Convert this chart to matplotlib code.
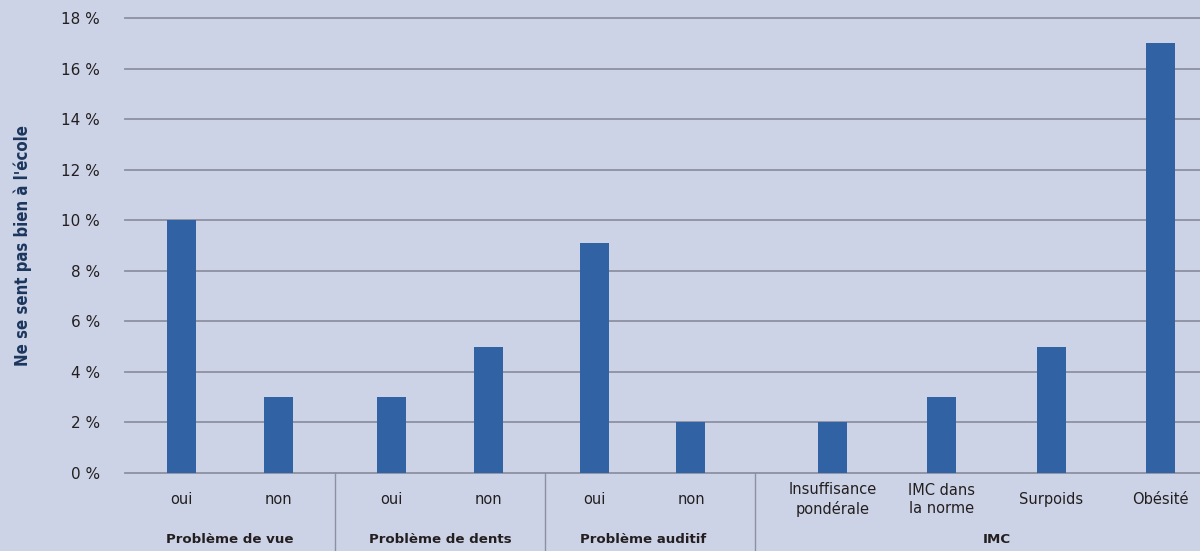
import matplotlib
matplotlib.use('Agg')
import matplotlib.pyplot as plt

groups = ['Problème de vue', 'Problème de dents', 'Problème auditif', 'IMC']
categories = [
    ['oui', 'non'],
    ['oui', 'non'],
    ['oui', 'non'],
    ['Insuffisance\npondérale', 'IMC dans\nla norme', 'Surpoids', 'Obésité'],
]
values = [
    [10, 3],
    [3, 5],
    [9.1, 2],
    [2, 3, 5, 17],
]
y_ticks = [0, 2, 4, 6, 8, 10, 12, 14, 16, 18]

BG = '#cdd3e6'
BAR = '#3162a3'
GRID = '#8c90a0'
TXT = '#231f20'

# layout of the category axis: width of each group and spacing of its bars
group_width = [2, 2, 2, 4.22]
group_lead = [0.54, 0.54, 0.47, 0.74]
group_step = [0.92, 0.92, 0.92, 1.04]

fig = plt.figure(figsize=(12, 5.51), dpi=100, facecolor=BG)
ax = fig.add_axes([125 / 1200, 1 - 473 / 551, 1 - 125 / 1200, (473 - 18) / 551])
ax.set_facecolor(BG)

start = 0
seps = []
for g, name in enumerate(groups):
    xs = [start + group_lead[g] + i * group_step[g] for i in range(len(values[g]))]
    ax.bar(xs, values[g], width=0.276, color=BAR, zorder=3)
    for x, lab in zip(xs, categories[g]):
        ax.text(x, -1.05, lab, ha='center', va='center', fontsize=10.5,
                color=TXT, linespacing=1.3)
    ax.text(sum(xs) / len(xs), -2.65, name, ha='center', va='center',
            fontsize=9.6, fontweight='bold', color=TXT)
    start += group_width[g]
    if g < len(groups) - 1:
        seps.append(start)

ax.set_xlim(0, 1075 / 105)
ax.set_ylim(0, 18)
ax.set_yticks(y_ticks)
ax.set_yticklabels([f'{t} %' for t in y_ticks], fontsize=11, color=TXT)
ax.tick_params(axis='y', length=0, pad=18)
ax.set_xticks([])
ax.yaxis.grid(True, color=GRID, linewidth=1.3, zorder=1)
for line in ax.get_ygridlines():
    line.set_clip_on(False)
for s in ax.spines.values():
    s.set_visible(False)

# vertical separators between groups below the axis
for s in seps:
    ax.plot([s, s], [0, -3.1], color=GRID, linewidth=1, clip_on=False, zorder=2)

fig.text(23 / 1200, 1 - 245 / 551, "Ne se sent pas bien à l'école",
         rotation=90, ha='center', va='center', fontsize=12, fontweight='bold',
         fontstretch='condensed', color='#1b365d', family='DejaVu Sans')

fig.savefig('out.png', dpi=100, facecolor=BG)
